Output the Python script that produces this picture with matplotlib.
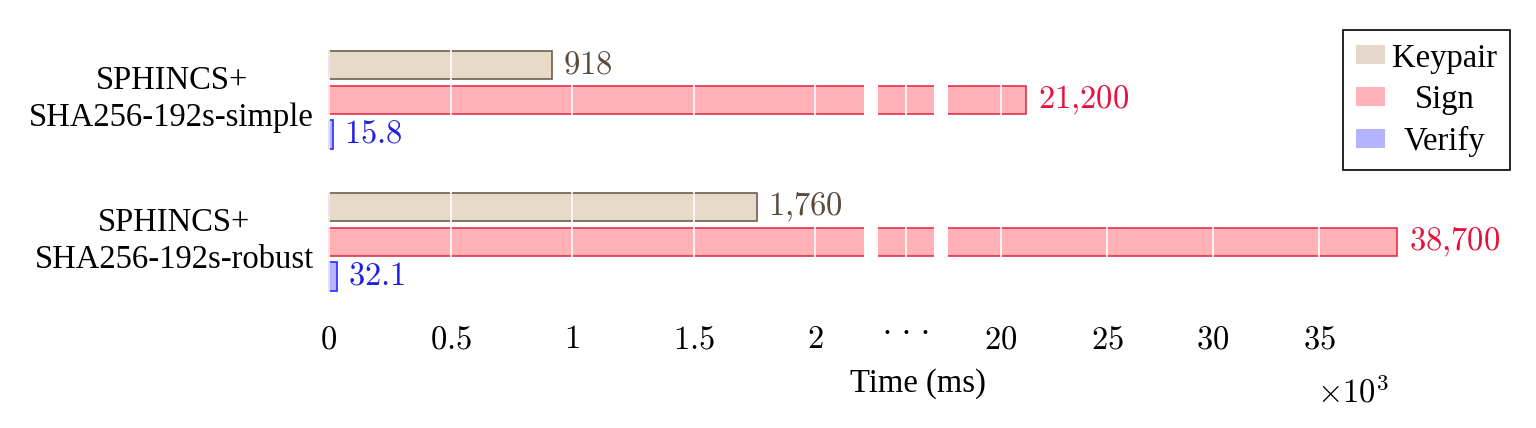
import matplotlib
matplotlib.use('Agg')
import matplotlib.pyplot as plt
from matplotlib.patches import Patch
import numpy as np

# ---- data ----
categories = ['SPHINCS+\nSHA256-192s-simple', 'SPHINCS+\nSHA256-192s-robust']
series = ['Keypair', 'Sign', 'Verify']
keypair_ms = [918, 1760]
sign_ms = [21200, 38700]
verify_ms = [15.8, 32.1]
value_labels = [['918', '1{,}760'], ['21{,}200', '38{,}700'], ['15.8', '32.1']]
left_ticks = [0, 0.5, 1, 1.5, 2]
left_tick_labels = ['0', '0.5', '1', '1.5', '2']
right_ticks = [20, 25, 30, 35]
right_tick_labels = ['20', '25', '30', '35']

plt.rcParams['mathtext.fontset'] = 'cm'
plt.rcParams['font.family'] = ['Liberation Serif', 'DejaVu Serif']
FS = 23.5

W, H = 1536, 428
fig = plt.figure(figsize=(W / 100, H / 100), dpi=100)


def ax_rect(x0, x1, y0=30, y1=310):
    return [x0 / W, 1 - y1 / H, (x1 - x0) / W, (y1 - y0) / H]


ax_l = fig.add_axes(ax_rect(328, 864))
ax_m = fig.add_axes(ax_rect(878, 934))
ax_r = fig.add_axes(ax_rect(948, 1402))

fills = ['#e8dac8', '#ffb1b6', '#b4b4ff']
edges = ['#6e5e4e', '#e5314c', '#2b2bff']
txtc = ['#5a4b3d', '#e8113c', '#1f1fe6']
legend_fills = ['#e4d8c8', '#ffb3b8', '#b3b3ff']
values = [keypair_ms, sign_ms, verify_ms]
offsets = [-0.246, 0.0, 0.243]
bh = 0.2
y = np.arange(len(categories))

for ax in (ax_l, ax_m, ax_r):
    for vals, off, fc, ec in zip(values, offsets, fills, edges):
        ax.barh(y + off, np.array(vals) / 1000.0, height=bh, color=fc,
                edgecolor=ec, linewidth=1.2)
    ax.set_ylim(1.479, -0.493)
    for s in ax.spines.values():
        s.set_visible(False)
    ax.tick_params(length=0, labelsize=FS, pad=10.5)
    ax.grid(axis='x', color='white', linewidth=1.2)
    ax.set_axisbelow(False)

ax_l.set_xlim(-1 / 243.2, 2.2)
ax_m.set_xlim(3, 17)
ax_r.set_xlim(17.5, 17.5 + 454 / 21.2)

ax_l.set_xticks(left_ticks, ['$%s$' % t for t in left_tick_labels])
ax_m.set_xticks([10], ['\u00b7 \u00b7 \u00b7'])
ax_m.tick_params(axis='x', pad=6.5)
ax_r.set_xticks(right_ticks, ['$%s$' % t for t in right_tick_labels])

ax_l.set_yticks(y - 0.05, categories)
for t in ax_l.get_yticklabels():
    t.set_multialignment('center')
    t.set_linespacing(1.25)
ax_l.tick_params(axis='y', pad=10)
ax_m.set_yticks([])
ax_r.set_yticks([])

# value labels
for vals, labs, off, c in zip(values, value_labels, offsets, txtc):
    for yi, v, lab in zip(y, vals, labs):
        xv = v / 1000.0
        ax = ax_l if xv < 2.2 else ax_r
        ax.annotate('$%s$' % lab, xy=(xv, yi + off), xytext=(8, 0),
                    textcoords='offset points', va='center', ha='left',
                    color=c, fontsize=FS, annotation_clip=False)

fig.text(918 / W, 1 - 384 / H, 'Time (ms)', ha='center', va='center', fontsize=FS)
fig.text(1353 / W, 1 - 393 / H, r'$\times 10^3$', ha='center', va='center', fontsize=FS)

handles = [Patch(facecolor=f, edgecolor='none') for f in legend_fills]
leg = fig.legend(handles, series, loc='upper right',
                 bbox_to_anchor=(1510 / W, 1 - 30 / H), borderaxespad=0,
                 frameon=True, fancybox=False, edgecolor='black', framealpha=1,
                 fontsize=FS, handlelength=0.89, handleheight=0.52,
                 handletextpad=0.22, labelspacing=0.34, borderpad=0.4)
leg.get_frame().set_linewidth(1.2)

fig.canvas.draw()
r = fig.canvas.get_renderer()
widths = [t.get_window_extent(r).width for t in leg.get_texts()]
wm = max(widths)
for t, w in zip(leg.get_texts(), widths):
    t.set_x((wm - w) / 2)

fig.savefig('out.png', dpi=100)
